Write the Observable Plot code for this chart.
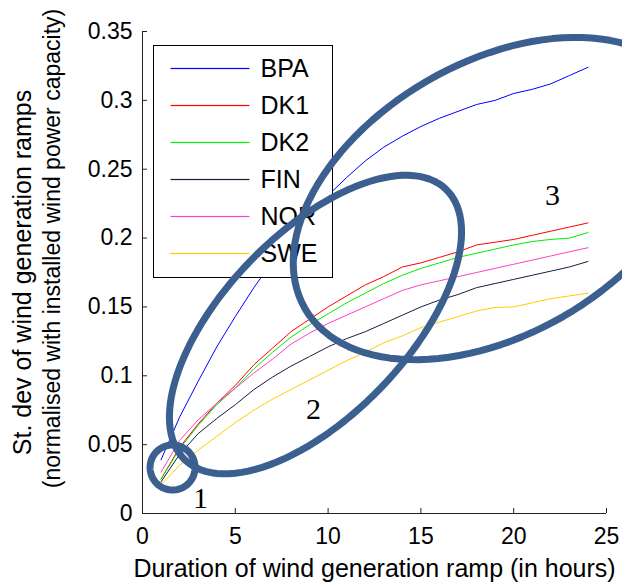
<!DOCTYPE html>
<html>
<head>
<meta charset="utf-8">
<script src="https://cdn.jsdelivr.net/npm/d3@7"></script>
<script src="https://cdn.jsdelivr.net/npm/@observablehq/plot@0.6"></script>
<style>
  body { margin: 0; background: #fff; }
  #chart { width: 622px; height: 585px; }
</style>
</head>
<body>
<div id="chart"></div>
<script>
// ---- data ----
const hours = [1,2,3,4,5,6,7,8,9,10,11,12,13,14,15,16,17,18,19,20,21,22,23,24];
const BPA = [0.039,0.070,0.096,0.121,0.143,0.164,0.183,0.200,0.216,0.231,0.244,0.256,0.266,0.274,0.281,0.287,0.292,0.297,0.300,0.305,0.308,0.312,0.318,0.324];
const DK1 = [0.025,0.048,0.065,0.080,0.093,0.108,0.120,0.132,0.141,0.150,0.158,0.166,0.172,0.179,0.182,0.186,0.190,0.195,0.197,0.199,0.202,0.205,0.208,0.211];
const DK2 = [0.025,0.047,0.064,0.079,0.091,0.105,0.117,0.128,0.137,0.145,0.153,0.160,0.167,0.173,0.178,0.182,0.186,0.189,0.192,0.195,0.1975,0.199,0.200,0.204];
const FIN = [0.023,0.043,0.058,0.069,0.079,0.090,0.099,0.107,0.114,0.121,0.127,0.132,0.138,0.144,0.150,0.155,0.159,0.164,0.167,0.170,0.173,0.176,0.179,0.183];
const NOR = [0.030,0.053,0.068,0.080,0.091,0.102,0.112,0.123,0.131,0.138,0.144,0.150,0.156,0.162,0.166,0.169,0.172,0.175,0.178,0.181,0.184,0.187,0.190,0.193];
const SWE = [0.021,0.035,0.046,0.056,0.066,0.075,0.083,0.090,0.097,0.104,0.111,0.117,0.124,0.129,0.135,0.139,0.143,0.147,0.1496,0.150,0.153,0.156,0.158,0.160];

const seriesNames = ["BPA", "DK1", "DK2", "FIN", "NOR", "SWE"];
const seriesValues = [BPA, DK1, DK2, FIN, NOR, SWE];
const seriesColors = ["#0000ff", "#ff0000", "#00ee00", "#1c1c3c", "#ff3fc8", "#ffcc00"];

const xTicks = [0, 5, 10, 15, 20, 25];
const yTicks = [0, 0.05, 0.1, 0.15, 0.2, 0.25, 0.3, 0.35];

const xTitle = "Duration of wind generation ramp (in hours)";
const yTitle1 = "St. dev of wind generation ramps";
const yTitle2 = "(normalised with installed wind power capacity)";

// annotation ellipses: centre in data units, semi-axes (px) and tilt (deg)
const ellipseIds = [1, 2, 3];
const ellipseCx = [1.62, 9.32, 19.02];
const ellipseCy = [0.0334, 0.1372, 0.2287];
const ellipseA = [22.5, 188, 220];
const ellipseB = [22.5, 91, 136];
const ellipseTilt = [0, 46, 30];

const noteLabels = ["1", "2", "3"];
const noteX = [3.12, 9.21, 22.09];
const noteY = [0.0109, 0.0755, 0.2309];

// ---- layout ----
const width = 622, height = 585;
const mL = 142, mR = 16, mT = 31, mB = 72;
const W = width - mL - mR, H = height - mT - mB;
const kx = W / 25, ky = H / 0.35;

const table = seriesNames.flatMap((name, k) =>
  hours.map((h, i) => ({series: name, hour: h, value: seriesValues[k][i]})));

const ellipsePts = ellipseIds.flatMap((id, k) => {
  const th = ellipseTilt[k] * Math.PI / 180;
  return d3.range(0, 360, 3).map(deg => {
    const t = deg * Math.PI / 180;
    const px = ellipseA[k] * Math.cos(t) * Math.cos(th) + ellipseB[k] * Math.sin(t) * Math.sin(th);
    const py = -ellipseA[k] * Math.cos(t) * Math.sin(th) + ellipseB[k] * Math.sin(t) * Math.cos(th);
    return {id, x: ellipseCx[k] + px / kx, y: ellipseCy[k] - py / ky};
  });
});

const notes = noteLabels.map((label, i) => ({label, x: noteX[i], y: noteY[i]}));

// legend layout (px within the frame)
const legBox = {left: 11, top: 14, right: 153 + 179 - mL, bottom: 277 - mT};
const legRow = i => 37 + 37 * i;
const legendMarks = [
  Plot.frame({fill: "white", stroke: "black", strokeWidth: 1,
    insetLeft: legBox.left, insetTop: legBox.top, insetRight: W - legBox.right, insetBottom: H - legBox.bottom}),
  ...seriesNames.flatMap((name, i) => [
    Plot.frame({fill: seriesColors[i], stroke: "none",
      insetLeft: 28, insetRight: W - 107, insetTop: legRow(i) - 0.6, insetBottom: H - legRow(i) - 0.6}),
    Plot.text([name], {frameAnchor: "top-left", dx: 118, dy: legRow(i), text: d => d,
      textAnchor: "start", lineAnchor: "middle", fontSize: 25, fill: "black"})
  ])
];

const chart = Plot.plot({
  width, height,
  marginLeft: mL, marginRight: mR, marginTop: mT, marginBottom: mB,
  style: {background: "white", fontFamily: "'Liberation Sans', Arial, sans-serif", fontSize: "23px", color: "black", overflow: "visible"},
  x: {domain: [0, 25], ticks: xTicks, tickSize: 0, tickPadding: 14, tickFormat: d => String(d), label: null},
  y: {domain: [0, 0.35], ticks: yTicks, tickSize: 0, tickPadding: 10, tickFormat: d => String(d), label: null},
  color: {domain: seriesNames, range: seriesColors},
  marks: [
    Plot.tickX(xTicks, {x: d => d, insetTop: H - 5, stroke: "#222", strokeWidth: 1}),
    Plot.tickY(yTicks, {y: d => d, insetRight: W - 5, stroke: "#222", strokeWidth: 1}),
    Plot.ruleX([0], {stroke: "#222", strokeWidth: 1}),
    Plot.ruleY([0], {stroke: "#222", strokeWidth: 1}),
    Plot.line(table, {x: "hour", y: "value", z: "series", stroke: "series", strokeWidth: 1}),
    ...legendMarks,
    Plot.line(ellipsePts, {x: "x", y: "y", z: "id", curve: "linear-closed", stroke: "#3b5f8e", strokeWidth: 7, strokeLinejoin: "round"}),
    Plot.text(notes, {x: "x", y: "y", text: "label", fontFamily: "'Liberation Serif', 'Times New Roman', serif", fontSize: 30, lineAnchor: "middle", fill: "black"}),
    Plot.text([xTitle], {frameAnchor: "bottom", dy: 55, text: d => d, fontSize: 25, textAnchor: "middle", lineAnchor: "middle", fill: "black"}),
    Plot.text([yTitle1], {frameAnchor: "left", rotate: -90, dx: -120, dy: 0, text: d => d, fontSize: 25, textAnchor: "middle", lineAnchor: "middle", fill: "black"}),
    Plot.text([yTitle2], {frameAnchor: "left", rotate: -90, dx: -90, dy: -24, text: d => d, fontSize: 23, textAnchor: "middle", lineAnchor: "middle", fill: "black"})
  ]
});
document.getElementById("chart").appendChild(chart);
</script>
</body>
</html>
